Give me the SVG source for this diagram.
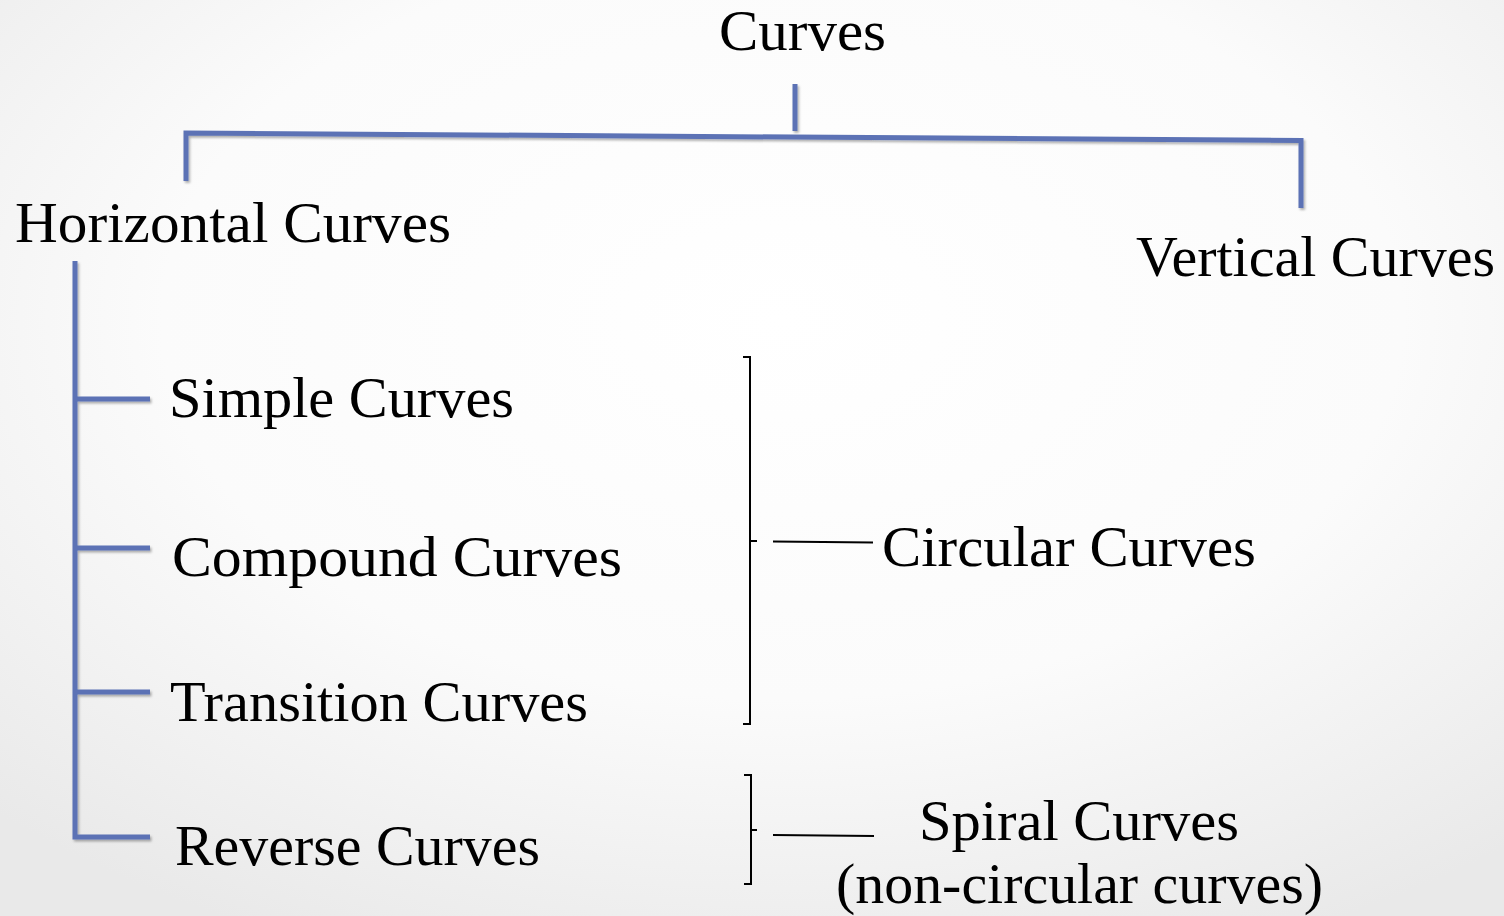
<svg xmlns="http://www.w3.org/2000/svg" width="1504" height="916" viewBox="0 0 1504 916">
  <defs>
    <radialGradient id="bg" cx="52%" cy="35%" r="75%">
      <stop offset="0" stop-color="#ffffff"/>
      <stop offset="0.55" stop-color="#fbfbfb"/>
      <stop offset="1" stop-color="#e9e9e9"/>
    </radialGradient>
    <filter id="sh" x="-5%" y="-5%" width="110%" height="110%">
      <feDropShadow dx="1.5" dy="2" stdDeviation="1.2" flood-color="#000" flood-opacity="0.3"/>
    </filter>
  </defs>
  <style>
    text { font-family: "Liberation Serif", "DejaVu Serif", serif; font-size: 57px; fill: #000; }
    .blue { stroke: #5b72b5; stroke-width: 5; fill: none; stroke-linecap: butt; filter: url(#sh); }
    .blk { stroke: #000; stroke-width: 2; fill: none; }
  </style>
  <rect width="1504" height="916" fill="url(#bg)"/>

  <g id="connectors">
    <g class="blue">
      <line x1="795" y1="84" x2="795" y2="131"/>
      <polyline points="186,181 186,133 1301,140.5 1301,208"/>
      <polyline points="75,261 75,837 150,837"/>
      <line x1="75" y1="399" x2="150" y2="399"/>
      <line x1="75" y1="548" x2="150" y2="548"/>
      <line x1="75" y1="692" x2="150" y2="692"/>
    </g>
    <g class="blk">
      <polyline points="743,357 750,357 750,724 743,724"/>
      <line x1="750" y1="541" x2="757" y2="541"/>
      <line x1="773" y1="541.5" x2="873" y2="542.5"/>
      <polyline points="744,775 751,775 751,884 744,884"/>
      <line x1="751" y1="830" x2="757" y2="830"/>
      <line x1="773" y1="835" x2="874" y2="836"/>
    </g>
  </g>

  <g id="node-curves"><text x="719" y="50" textLength="167" lengthAdjust="spacingAndGlyphs">Curves</text></g>
  <g id="node-horizontal"><text x="15" y="242" textLength="436" lengthAdjust="spacingAndGlyphs">Horizontal Curves</text></g>
  <g id="node-vertical"><text x="1136" y="276" textLength="359" lengthAdjust="spacingAndGlyphs">Vertical Curves</text></g>
  <g id="node-simple"><text x="169" y="417" textLength="345" lengthAdjust="spacingAndGlyphs">Simple Curves</text></g>
  <g id="node-compound"><text x="172" y="576" textLength="450" lengthAdjust="spacingAndGlyphs">Compound Curves</text></g>
  <g id="node-transition"><text x="170" y="721" textLength="418" lengthAdjust="spacingAndGlyphs">Transition Curves</text></g>
  <g id="node-reverse"><text x="175" y="865" textLength="365" lengthAdjust="spacingAndGlyphs">Reverse Curves</text></g>
  <g id="node-circular"><text x="882" y="566" textLength="374" lengthAdjust="spacingAndGlyphs">Circular Curves</text></g>
  <g id="node-spiral">
    <text x="919" y="840" textLength="320" lengthAdjust="spacingAndGlyphs">Spiral Curves</text>
    <text x="836" y="903" textLength="487" lengthAdjust="spacingAndGlyphs">(non-circular curves)</text>
  </g>
</svg>
